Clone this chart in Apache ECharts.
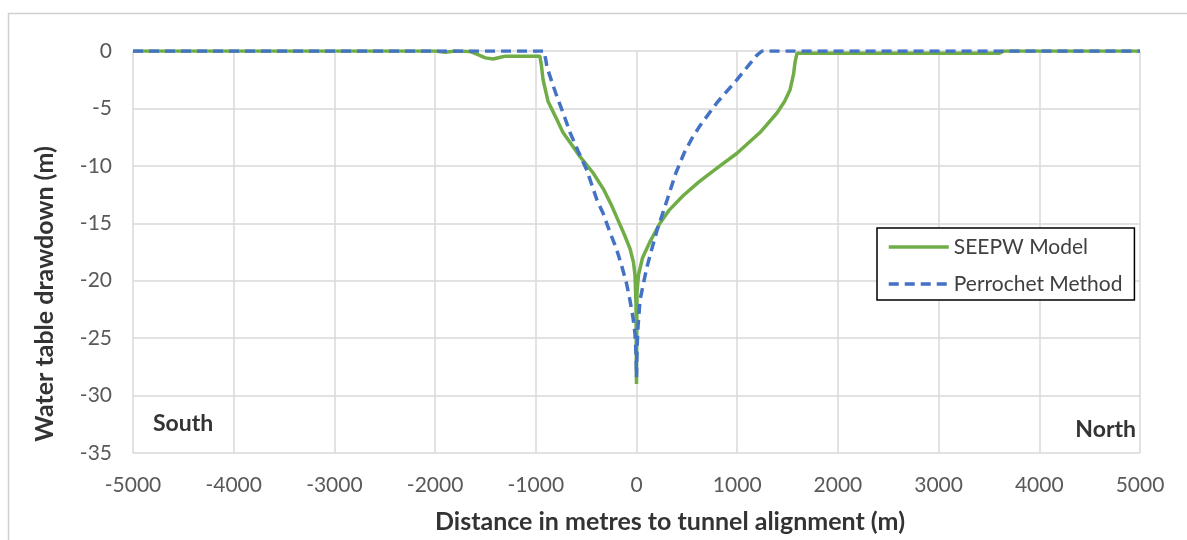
<!DOCTYPE html>
<html>
<head>
<meta charset="utf-8">
<script src="https://cdn.jsdelivr.net/npm/echarts@6/dist/echarts.min.js"></script>
<style>
  html, body { margin: 0; padding: 0; background: #ffffff; }
  #chart { width: 1187px; height: 540px; }
</style>
</head>
<body>
<div id="chart"></div>
<script>
// Distance (m) from tunnel alignment, drawdown (m)
const seepwModel = [
  [-5000, 0], [-2000, 0], [-1900, -0.1], [-1800, 0], [-1650, -0.05],
  [-1580, -0.3], [-1500, -0.6], [-1425, -0.7], [-1350, -0.55], [-1300, -0.45],
  [-960, -0.45], [-945, -1.2], [-928, -2.5], [-878, -4.4], [-800, -5.8],
  [-730, -7.1], [-640, -8.2], [-561, -9.2], [-432, -10.6], [-330, -12.0],
  [-250, -13.4], [-185, -14.7], [-120, -16.0], [-65, -17.2], [-30, -18.4],
  [-15, -19.5], [-5, -22.0], [0, -29.0],
  [5, -21.0], [20, -19.5], [60, -18.0], [134, -16.6], [233, -15.0],
  [320, -13.9], [462, -12.6], [620, -11.4], [799, -10.2], [998, -8.9],
  [1226, -7.1], [1395, -5.4], [1470, -4.4], [1524, -3.4], [1560, -2.0],
  [1574, -1.0], [1594, -0.2], [3600, -0.2], [3650, 0], [5000, 0]
];

const perrochetMethod = [
  [-5000, 0], [-920, 0], [-900, -0.8], [-889, -1.4], [-840, -2.7],
  [-789, -4.0], [-720, -5.6], [-660, -7.1], [-580, -8.7], [-492, -10.4],
  [-392, -13.0], [-333, -14.1], [-263, -15.8], [-200, -17.2], [-144, -18.8],
  [-100, -20.2], [-65, -21.7], [-35, -23.2], [-15, -24.6], [-5, -26.3],
  [0, -28.4],
  [5, -26.0], [15, -24.0], [35, -21.7], [70, -20.2], [104, -18.8],
  [150, -17.3], [204, -15.6], [303, -13.0], [392, -10.6], [472, -8.9],
  [551, -7.6], [631, -6.5], [799, -4.5], [998, -2.5], [1127, -1.1],
  [1197, -0.35], [1246, 0], [5000, 0]
];

const seriesNames = ['SEEPW Model', 'Perrochet Method'];
const xTitle = 'Distance in metres to tunnel alignment (m)';
const yTitle = 'Water table drawdown (m)';
const sideLabels = ['South', 'North'];

const FONT = 'Lato, "Open Sans", sans-serif';
const GRID_COLOR = '#d9d9d9';
const TICK_COLOR = '#595959';
const TITLE_COLOR = '#333333';

const chart = echarts.init(document.getElementById('chart'), null, { renderer: 'canvas' });

chart.setOption({
  backgroundColor: '#ffffff',
  animation: false,
  textStyle: { fontFamily: FONT },
  grid: { left: 133, top: 51, right: 47, bottom: 87, containLabel: false },
  xAxis: {
    type: 'value',
    min: -5000, max: 5000, interval: 1000,
    axisLine: { show: false },
    axisTick: { show: false },
    axisLabel: {
      color: TICK_COLOR, fontSize: 21, fontFamily: FONT, margin: 22,
      formatter: (v) => String(v)
    },
    splitLine: { show: true, lineStyle: { color: GRID_COLOR, width: 1.5 } }
  },
  yAxis: {
    type: 'value',
    min: -35, max: 0, interval: 5,
    axisLine: { show: false },
    axisTick: { show: false },
    axisLabel: {
      color: TICK_COLOR, fontSize: 21, fontFamily: FONT, margin: 21,
      formatter: (v) => String(v)
    },
    splitLine: { show: true, lineStyle: { color: GRID_COLOR, width: 1.5 } }
  },
  legend: {
    orient: 'vertical',
    left: 877, top: 228,
    padding: [7, 12, 4, 10],
    borderColor: '#000000', borderWidth: 1.5,
    backgroundColor: '#ffffff',
    itemWidth: 60, itemHeight: 14, itemGap: 13,
    itemStyle: { opacity: 0 },
    lineStyle: { width: 3.5 },
    textStyle: { fontSize: 21, color: '#404040', fontFamily: FONT, lineHeight: 24 },
    data: seriesNames
  },
  series: [
    {
      name: seriesNames[0],
      type: 'line',
      data: seepwModel,
      symbol: 'none',
      smooth: false,
      lineStyle: { color: '#70ad47', width: 3.5 },
      itemStyle: { color: '#70ad47' },
      z: 2
    },
    {
      name: seriesNames[1],
      type: 'line',
      data: perrochetMethod,
      symbol: 'none',
      smooth: false,
      lineStyle: { color: '#4472c4', width: 3.5, type: [10, 6] },
      itemStyle: { color: '#4472c4' },
      z: 3
    }
  ],
  graphic: [
    {
      type: 'rect',
      shape: { x: 8.5, y: 13.5, width: 1300, height: 700 },
      style: { fill: 'none', stroke: '#d0d0d0', lineWidth: 1.5 },
      silent: true, z: -1
    },
    {
      type: 'text',
      x: 670, y: 522,
      style: {
        text: xTitle, fill: TITLE_COLOR,
        font: 'bold 25px ' + FONT,
        align: 'center', verticalAlign: 'middle'
      }
    },
    {
      type: 'text',
      x: 45, y: 294,
      rotation: Math.PI / 2,
      style: {
        text: yTitle, fill: TITLE_COLOR,
        font: 'bold 25px ' + FONT,
        align: 'center', verticalAlign: 'middle'
      }
    },
    {
      type: 'text',
      x: 153, y: 424,
      style: {
        text: sideLabels[0], fill: TITLE_COLOR,
        font: 'bold 23px ' + FONT,
        align: 'left', verticalAlign: 'middle'
      }
    },
    {
      type: 'text',
      x: 1136, y: 430,
      style: {
        text: sideLabels[1], fill: TITLE_COLOR,
        font: 'bold 23px ' + FONT,
        align: 'right', verticalAlign: 'middle'
      }
    }
  ]
});
</script>
</body>
</html>
